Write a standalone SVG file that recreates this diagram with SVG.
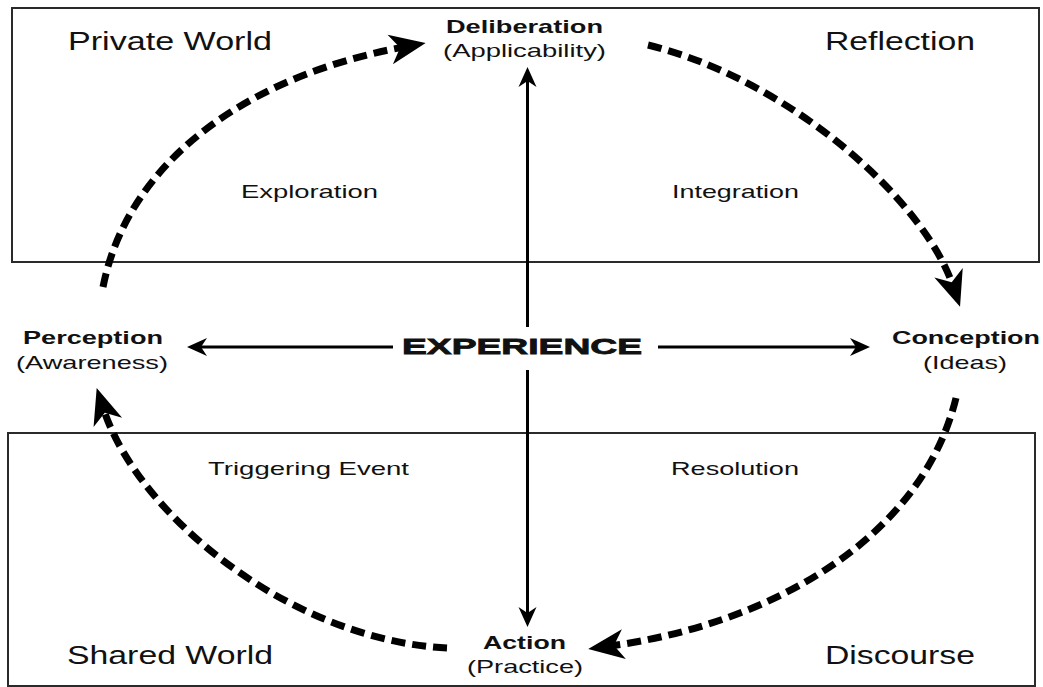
<svg xmlns="http://www.w3.org/2000/svg" width="1043" height="687" viewBox="0 0 1043 687">
  <style>
    .frame { fill: none; stroke: #2a2a2a; stroke-width: 2; }
    text { font-family: "Liberation Sans", Arial, Helvetica, sans-serif; fill: #111; }
    .big { font-size: 25px; }
    .phase { font-size: 18.5px; }
    .node { font-size: 19px; }
    .bold { font-weight: bold; }
    .exp { font-size: 22.5px; font-weight: bold; stroke: #111; stroke-width: 0.8; }
    .dash { fill: none; stroke: #000; stroke-width: 7; stroke-dasharray: 14 7; }
    .axis { fill: none; stroke: #000; stroke-width: 3; }
  </style>
  <defs>
    <marker id="bigHead" markerUnits="userSpaceOnUse" viewBox="0 0 40 32" markerWidth="40" markerHeight="32" refX="16" refY="16" orient="auto">
      <path d="M38,16 L2,1 L12,16 L2,31 Z" fill="#000"/>
    </marker>
    <marker id="smallHead" markerUnits="userSpaceOnUse" viewBox="0 0 22 20" markerWidth="22" markerHeight="20" refX="11" refY="10" orient="auto">
      <path d="M21,10 L1,1 L7,10 L1,19 Z" fill="#000"/>
    </marker>
  </defs>

  <rect id="privateFrame" class="frame" x="12" y="8" width="1027" height="254"/>
  <rect id="sharedFrame" class="frame" x="8" y="433" width="1027" height="253"/>

  <g id="connectors">
    <path class="dash" d="M103,287 C128,160 250,75 404,47" marker-end="url(#bigHead)"/>
    <path class="dash" d="M648,45 C790,80 924,200 953,286" marker-end="url(#bigHead)"/>
    <path class="dash" d="M956,398 C920,545 760,626 610,646" marker-end="url(#bigHead)"/>
    <path class="dash" d="M447,648 C290,640 138,515 103.5,409" marker-end="url(#bigHead)"/>
    <path class="axis" d="M527.5,327 L527.5,77" marker-end="url(#smallHead)"/>
    <path class="axis" d="M527.5,370 L527.5,617" marker-end="url(#smallHead)"/>
    <path class="axis" d="M393,347 L197,347" marker-end="url(#smallHead)"/>
    <path class="axis" d="M658,347 L860,347" marker-end="url(#smallHead)"/>
  </g>

  <g id="privateWorld"><text class="big" x="68" y="50" textLength="204" lengthAdjust="spacingAndGlyphs">Private World</text></g>
  <g id="reflection"><text class="big" x="825" y="50" textLength="150" lengthAdjust="spacingAndGlyphs">Reflection</text></g>
  <g id="sharedWorld"><text class="big" x="67" y="664" textLength="206" lengthAdjust="spacingAndGlyphs">Shared World</text></g>
  <g id="discourse"><text class="big" x="825" y="664" textLength="150" lengthAdjust="spacingAndGlyphs">Discourse</text></g>

  <g id="exploration"><text class="phase" x="241" y="198" textLength="137" lengthAdjust="spacingAndGlyphs">Exploration</text></g>
  <g id="integration"><text class="phase" x="672" y="198" textLength="127" lengthAdjust="spacingAndGlyphs">Integration</text></g>
  <g id="triggeringEvent"><text class="phase" x="208" y="475" textLength="201" lengthAdjust="spacingAndGlyphs">Triggering Event</text></g>
  <g id="resolution"><text class="phase" x="671" y="475" textLength="128" lengthAdjust="spacingAndGlyphs">Resolution</text></g>

  <g id="deliberation">
    <text class="node bold" x="446" y="33" textLength="157" lengthAdjust="spacingAndGlyphs">Deliberation</text>
    <text class="node" x="443" y="57" textLength="163" lengthAdjust="spacingAndGlyphs">(Applicability)</text>
  </g>
  <g id="perception">
    <text class="node bold" x="23" y="344" textLength="140" lengthAdjust="spacingAndGlyphs">Perception</text>
    <text class="node" x="16" y="369" textLength="152" lengthAdjust="spacingAndGlyphs">(Awareness)</text>
  </g>
  <g id="conception">
    <text class="node bold" x="892" y="344" textLength="148" lengthAdjust="spacingAndGlyphs">Conception</text>
    <text class="node" x="923" y="369" textLength="84" lengthAdjust="spacingAndGlyphs">(Ideas)</text>
  </g>
  <g id="action">
    <text class="node bold" x="483" y="649" textLength="83" lengthAdjust="spacingAndGlyphs">Action</text>
    <text class="node" x="467" y="673" textLength="116" lengthAdjust="spacingAndGlyphs">(Practice)</text>
  </g>
  <g id="experience">
    <text class="exp" x="402" y="354" textLength="240" lengthAdjust="spacingAndGlyphs">EXPERIENCE</text>
  </g>
</svg>
